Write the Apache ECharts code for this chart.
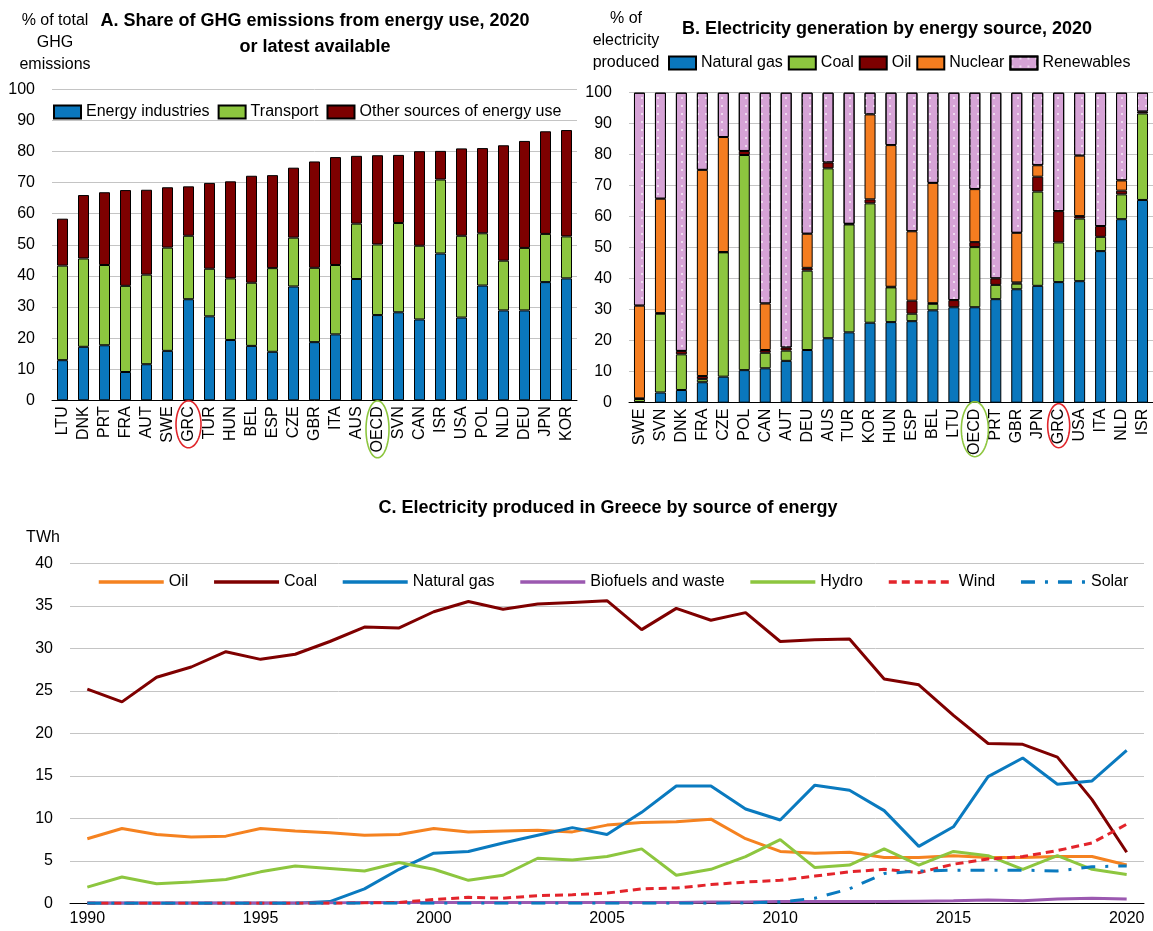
<!DOCTYPE html>
<html>
<head>
<meta charset="utf-8">
<script src="https://cdn.jsdelivr.net/npm/echarts@6/dist/echarts.min.js"></script>
<style>
html,body{margin:0;padding:0;background:#fff;}
#c{width:1153px;height:931px;}
</style>
</head>
<body>
<div id="c"></div>
<script>
// Panel A: share of GHG emissions from energy use
const ghgCountries = ['LTU','DNK','PRT','FRA','AUT','SWE','GRC','TUR','HUN','BEL','ESP','CZE','GBR','ITA','AUS','OECD','SVN','CAN','ISR','USA','POL','NLD','DEU','JPN','KOR'];
const ghgEnergyIndustries = [12.9,17.2,17.7,9.1,11.6,15.9,32.5,27.0,19.4,17.5,15.6,36.6,18.7,21.2,39.0,27.4,28.3,26.0,47.2,26.6,36.9,28.9,28.9,38.0,39.2];
const ghgTransport        = [30.4,28.4,25.8,27.7,28.8,33.2,20.4,15.3,19.8,20.3,26.9,15.7,23.9,22.3,17.8,22.7,28.7,23.7,23.8,26.3,16.8,16.0,20.1,15.5,13.5];
const ghgOther            = [15.1,20.4,23.4,30.8,27.3,19.4,15.9,27.6,31.2,34.4,29.9,22.5,34.2,34.7,21.8,28.7,21.9,30.4,9.2,28.1,27.4,37.1,34.4,33.0,34.2];

// Panel B: electricity generation by energy source, 2020 (%)
const elecCountries = ['SWE','SVN','DNK','FRA','CZE','POL','CAN','AUT','DEU','AUS','TUR','KOR','HUN','ESP','BEL','LTU','OECD','PRT','GBR','JPN','GRC','USA','ITA','NLD','ISR'];
const elecGas        = [0.2,3.3,4.1,6.6,8.4,10.5,11.1,13.5,17.0,20.8,22.7,25.8,26.0,26.3,29.8,30.8,30.8,33.4,36.6,37.7,38.9,39.2,48.9,59.2,65.4];
const elecCoal       = [1.0,25.4,11.5,1.0,40.1,69.4,5.0,3.3,25.6,54.8,34.8,38.5,11.2,2.4,2.1,null,19.4,4.6,1.8,30.4,12.8,20.2,4.6,8.0,27.9];
const elecOil        = [0.2,0.2,1.1,1.0,0.1,1.3,0.9,1.0,0.9,1.9,0.2,1.3,0.2,4.2,0.2,2.3,1.6,2.1,0.4,4.8,10.1,0.8,3.5,1.2,0.6];
const elecNuclear    = [29.9,36.9,null,66.5,37.1,null,15.0,null,11.0,null,null,27.4,45.7,22.4,38.8,null,17.1,null,16.0,3.7,null,19.5,null,3.3,null];
const elecRenewables = [68.7,34.2,83.3,24.9,14.3,18.8,68.0,82.2,45.5,22.5,42.3,7.0,16.9,44.7,29.1,66.9,31.1,59.9,45.2,23.4,38.2,20.3,43.0,28.3,6.1];

// Panel C: electricity produced in Greece by source (TWh)
const years = ['1990','1991','1992','1993','1994','1995','1996','1997','1998','1999','2000','2001','2002','2003','2004','2005','2006','2007','2008','2009','2010','2011','2012','2013','2014','2015','2016','2017','2018','2019','2020'];
const grcOil     = [7.6,8.8,8.1,7.8,7.9,8.8,8.5,8.3,8.0,8.1,8.8,8.4,8.5,8.6,8.4,9.2,9.5,9.6,9.9,7.6,6.1,5.9,6.0,5.4,5.4,5.6,5.4,5.4,5.5,5.5,4.5];
const grcCoal    = [25.2,23.7,26.6,27.8,29.6,28.7,29.3,30.8,32.5,32.4,34.3,35.5,34.6,35.2,35.4,35.6,32.2,34.7,33.3,34.2,30.8,31.0,31.1,26.4,25.7,22.1,18.8,18.7,17.2,12.2,6.0];
const grcGas     = [0,0,0,0,0,0,0,0.2,1.7,4.0,5.9,6.1,7.1,8.0,8.9,8.1,10.7,13.8,13.8,11.1,9.8,13.9,13.3,10.9,6.7,9.0,14.9,17.1,14.0,14.4,18.0];
const grcBio     = [0.05,0.05,0.05,0.05,0.05,0.05,0.05,0.05,0.1,0.1,0.1,0.1,0.1,0.1,0.1,0.1,0.1,0.1,0.15,0.15,0.2,0.2,0.2,0.2,0.25,0.3,0.4,0.3,0.5,0.6,0.5];
const grcHydro   = [1.9,3.1,2.3,2.5,2.8,3.7,4.4,4.1,3.8,4.8,4.0,2.7,3.3,5.3,5.1,5.5,6.4,3.3,4.0,5.5,7.5,4.2,4.5,6.4,4.5,6.1,5.6,4.0,5.6,4.0,3.4];
const grcWind    = [0,0,0,0,0,0,0,0,0.05,0.1,0.45,0.7,0.6,0.9,1.0,1.2,1.7,1.8,2.2,2.5,2.7,3.2,3.7,4.0,3.6,4.6,5.2,5.5,6.2,7.1,9.3];
const grcSolar   = [0,0,0,0,0,0,0,0,0,0,0,0,0,0,0,0,0,0,0,0.05,0.15,0.6,1.7,3.5,3.8,3.9,3.9,3.9,3.8,4.3,4.4];

const FONT = 'Liberation Sans, Arial, Helvetica, sans-serif';
const BLUE = '#0a77bd', GREEN = '#8dc63f', DRED = '#7d0000', ORANGE = '#f47d20', PINK = '#d6a3d6';
const GRIDC = '#c4c4c4';

const chart = echarts.init(document.getElementById('c'), null, {renderer:'canvas'});

function catX(idx){
  return {
    type:'category', gridIndex: idx, data: idx===0?ghgCountries:elecCountries,
    axisLine:{lineStyle:{color:'#000', width:1}},
    axisTick:{inside:true, length:5, interval:0, lineStyle:{color:'#000'}},
    axisLabel:{rotate:90, interval:0, fontSize:16, color:'#000', fontFamily:FONT, margin:6}
  };
}
function pctY(idx){
  return {
    type:'value', gridIndex: idx, min:0, max:100, interval:10,
    axisLine:{show:false}, axisTick:{show:false},
    axisLabel:{fontSize:16, color:'#000', fontFamily:FONT, margin:17},
    splitLine:{lineStyle:{color:GRIDC, width:1}}
  };
}
function barS(name, data, color, xi, stack, extra){
  const s = {
    name, type:'bar', data, xAxisIndex:xi, yAxisIndex:xi, stack, barWidth:11,
    itemStyle:{color, borderColor:'#000', borderWidth:1}
  };
  if (extra) Object.assign(s.itemStyle, extra);
  return s;
}
function lineS(name, data, color, type){
  return {
    name, type:'line', data, xAxisIndex:2, yAxisIndex:2, symbol:'none', smooth:false,
    lineStyle:{color, width:3, type: type||'solid'}, itemStyle:{color}
  };
}
const legText = {fontSize:16, color:'#000', fontFamily:FONT};

const option = {
  animation:false,
  textStyle:{fontFamily:FONT},
  grid:[
    {left:52, top:89.3, width:525, height:311},
    {left:629, top:92.7, width:524, height:310},
    {left:70, top:563.3, width:1074, height:340}
  ],
  xAxis:[
    catX(0), catX(1),
    {type:'category', gridIndex:2, data:years, boundaryGap:true,
     axisLine:{lineStyle:{color:'#000', width:1}},
     axisTick:{inside:true, length:5, interval:0, lineStyle:{color:'#000'}},
     axisLabel:{interval:4, fontSize:16, color:'#000', fontFamily:FONT, margin:7}}
  ],
  yAxis:[
    pctY(0), pctY(1),
    {type:'value', gridIndex:2, min:0, max:40, interval:5,
     axisLine:{show:false}, axisTick:{show:false},
     axisLabel:{fontSize:16, color:'#000', fontFamily:FONT, margin:17},
     splitLine:{lineStyle:{color:GRIDC, width:1}}}
  ],
  legend:[
    {data:['Energy industries','Transport','Other sources of energy use'], left:53, top:104, padding:0,
     icon:'rect', itemWidth:27, itemHeight:13, itemGap:8, textStyle:legText},
    {data:['Natural gas','Coal','Oil','Nuclear','Renewables'], left:668, top:55, padding:0,
     icon:'rect', itemWidth:27, itemHeight:13, itemGap:5, textStyle:legText},
    {data:['Oil ','Coal ','Natural gas ','Biofuels and waste','Hydro','Wind','Solar'], left:97, top:574, padding:0,
     itemWidth:65, itemHeight:14, itemGap:24, textStyle:legText, itemStyle:{opacity:0},
     lineStyle:{width:3.5}, formatter: n => n.trim()}
  ],
  series:[
    barS('Energy industries', ghgEnergyIndustries, BLUE, 0, 'a'),
    barS('Transport', ghgTransport, GREEN, 0, 'a'),
    barS('Other sources of energy use', ghgOther, DRED, 0, 'a'),
    barS('Natural gas', elecGas, BLUE, 1, 'b'),
    barS('Coal', elecCoal, GREEN, 1, 'b'),
    barS('Oil', elecOil, DRED, 1, 'b'),
    barS('Nuclear', elecNuclear, ORANGE, 1, 'b'),
    barS('Renewables', elecRenewables, PINK, 1, 'b', {
      decal:{symbol:'circle', symbolSize:0.5, color:'rgba(255,255,255,0.8)', dashArrayX:[4,4], dashArrayY:[4,4], rotation:0}
    }),
    lineS('Oil ', grcOil, '#f58220'),
    lineS('Coal ', grcCoal, '#7f0000'),
    lineS('Natural gas ', grcGas, '#0a7abf'),
    lineS('Biofuels and waste', grcBio, '#9b59b0'),
    lineS('Hydro', grcHydro, '#8dc63f'),
    lineS('Wind', grcWind, '#e3242b', [8,5]),
    lineS('Solar', grcSolar, '#0a7abf', [14,10,3,10])
  ]
};
chart.setOption(option);

function ellipse(cx, cy, rx, ry, color){
  const pts = [];
  for (let i=0;i<60;i++){ const t = i/60*Math.PI*2; pts.push([cx+rx*Math.cos(t), cy+ry*Math.sin(t)]); }
  return {type:'polygon', shape:{points:pts}, style:{fill:'none', stroke:color, lineWidth:1.6}, z:100};
}
function txt(x, y, text, bold, align, size){
  return {type:'text', x, y, z:100, style:{text, fill:'#000', font:(bold?'bold ':'')+(size||16)+'px '+FONT,
    textAlign:align||'center', textVerticalAlign:'middle', lineHeight:22}};
}
const baseA = chart.convertToPixel({yAxisIndex:0}, 0);
const baseB = chart.convertToPixel({yAxisIndex:1}, 0);
const xA_GRC = chart.convertToPixel({xAxisIndex:0}, 'GRC');
const xA_OECD = chart.convertToPixel({xAxisIndex:0}, 'OECD');
const xB_GRC = chart.convertToPixel({xAxisIndex:1}, 'GRC');
const xB_OECD = chart.convertToPixel({xAxisIndex:1}, 'OECD');

chart.setOption({graphic:[
  txt(315, 21, 'A. Share of GHG emissions from energy use, 2020', true, 'center', 18),
  txt(315, 47, 'or latest available', true, 'center', 18),
  txt(55, 43, '% of total\nGHG\nemissions', false),
  txt(887, 29, 'B. Electricity generation by energy source, 2020', true, 'center', 18),
  txt(626, 41, '% of\nelectricity\nproduced', false),
  txt(608, 508, 'C. Electricity produced in Greece by source of energy', true, 'center', 18),
  txt(43, 538, 'TWh', false),
  ellipse(xA_GRC, baseA+24, 12.5, 23.5, '#e0262b'),
  ellipse(xA_OECD, baseA+29, 11.5, 28.5, '#8dc63f'),
  ellipse(xB_OECD, baseB+26.5, 13.5, 27.5, '#8dc63f'),
  ellipse(xB_GRC, baseB+23, 11, 22, '#e0262b')
]});
</script>
</body>
</html>
